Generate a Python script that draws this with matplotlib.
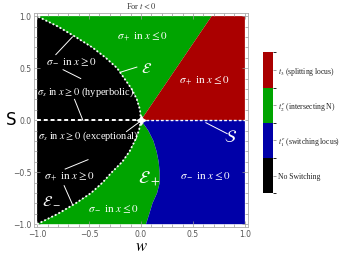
import numpy as np
import matplotlib
matplotlib.use("Agg")
import matplotlib.pyplot as plt
from matplotlib.colors import ListedColormap, BoundaryNorm

plt.rcParams['mathtext.fontset'] = 'stix'
plt.rcParams['font.family'] = ['Liberation Serif', 'DejaVu Serif']

# ---- data ----
# boundary of "No Switching" region, upper half (s >= 0)
s_up = [0.0, 0.1, 0.2, 0.3, 0.4, 0.5, 0.6, 0.7, 0.8, 0.9, 1.0]
w_black_up = [0.0, -0.01, -0.04, -0.09, -0.16, -0.23, -0.34, -0.47, -0.63, -0.80, -1.0]
# boundary of "No Switching" region, lower half (s <= 0)
s_lo = [0.0, -0.1, -0.2, -0.3, -0.4, -0.5, -0.6, -0.7, -0.8, -0.9, -1.0]
w_black_lo = [0.0, -0.02, -0.06, -0.11, -0.18, -0.28, -0.37, -0.48, -0.63, -0.80, -1.0]
# green / blue boundary (s <= 0)
w_blue_lo = [0.0, 0.07, 0.12, 0.15, 0.17, 0.18, 0.18, 0.155, 0.11, 0.08, 0.048]
# green / red boundary (straight line, s >= 0)
s_red = [0.0, 1.0]
w_red = [0.0, 0.68]

colors = ['#000000', '#0000A8', '#00A400', '#AA0000']
cbar_labels = ['No Switching', r'$t_1^e$ (switching locus)',
               r'$t_2^e$ (intersecting N)', r'$t_3$ (splitting locus)']

region_texts = [
    (r'$\sigma_+$ in $x \leq 0$', 0.01, 0.80, 8),
    (r'$\mathcal{E}$', 0.05, 0.49, 11),
    (r'$\sigma_-$ in $x \geq 0$', -0.67, 0.555, 8),
    (r'$\sigma_s$ in $x \geq 0$ (hyperbolic)', -0.53, 0.27, 7.5),
    (r'$\sigma_s$ in $x \geq 0$ (exceptional)', -0.51, -0.15, 7.5),
    (r'$\sigma_+$ in $x \geq 0$', -0.69, -0.54, 8),
    (r'$\mathcal{E}_-$', -0.86, -0.775, 11),
    (r'$\sigma_-$ in $x \leq 0$', -0.27, -0.86, 8),
    (r'$\mathcal{E}_+$', 0.08, -0.56, 13),
    (r'$\sigma_+$ in $x \leq 0$', 0.61, 0.38, 8),
    (r'$\mathcal{S}$', 0.865, -0.17, 12),
    (r'$\sigma_-$ in $x \leq 0$', 0.625, -0.535, 8),
]

pointers = [
    (-0.20, 0.46, -0.04, 0.51),
    (-0.82, 0.63, -0.66, 0.80),
    (-0.75, 0.485, -0.58, 0.40),
    (-0.64, 0.20, -0.56, 0.0),
    (-0.14, -0.11, -0.005, -0.01),
    (-0.73, -0.47, -0.51, -0.38),
    (-0.74, -0.63, -0.66, -0.81),
    (0.625, -0.025, 0.83, -0.13),
]

fig = plt.figure(figsize=(3.48, 2.56), dpi=100)
ax = fig.add_axes([34/348, 1-227.3/256, 214/348, 214.3/256])

# upper half
ax.fill(list(w_black_up) + [-1.0], list(s_up) + [0.0], color=colors[0], lw=0)
ax.fill(list(w_black_up) + w_red[::-1], list(s_up) + s_red[::-1], color=colors[2], lw=0)
ax.fill(w_red + [1.0, 1.0], s_red + [1.0, 0.0], color=colors[3], lw=0)
# lower half
ax.fill(list(w_black_lo) + [-1.0], list(s_lo) + [0.0], color=colors[0], lw=0)
ax.fill(list(w_black_lo) + list(w_blue_lo)[::-1], list(s_lo) + list(s_lo)[::-1], color=colors[2], lw=0)
ax.fill(list(w_blue_lo) + [1.0, 1.0], list(s_lo) + [-1.0, 0.0], color=colors[1], lw=0)

# dotted boundaries
ax.plot(w_black_up, s_up, color='white', lw=1.3, ls=(0, (1, 1.2)))
ax.plot(w_black_lo, s_lo, color='white', lw=1.3, ls=(0, (1, 1.2)))
ax.plot([-1, 0], [0, 0], color='white', lw=1.4, ls=(0, (2, 1.5)))
ax.plot([0, 1], [0, 0], color='white', lw=1.0, ls=(0, (2, 1.5)))
ax.plot([0], [0], marker=(4, 1, 0), color='white', ms=7, mew=0.5)

for (x1, y1, x2, y2) in pointers:
    ax.plot([x1, x2], [y1, y2], color='white', lw=0.7)
for (t, x, y, fs) in region_texts:
    ax.text(x, y, t, color='white', fontsize=fs, ha='center', va='center')

ax.set_xlim(-1.03, 1.03)
ax.set_ylim(-1.03, 1.03)
ax.set_xticks([-1.0, -0.5, 0.0, 0.5, 1.0])
ax.set_yticks([-1.0, -0.5, 0.0, 0.5, 1.0])
ax.set_xticks(np.arange(-1.0, 1.01, 0.1), minor=True)
ax.set_yticks(np.arange(-1.0, 1.01, 0.1), minor=True)
ax.set_xticklabels(['\u22121.0', '\u22120.5', '0.0', '0.5', '1.0'])
ax.set_yticklabels(['\u22121.0', '\u22120.5', '0.0', '0.5', '1.0'])
for lab in ax.get_xticklabels() + ax.get_yticklabels():
    lab.set_family('DejaVu Sans')
ax.tick_params(which='both', direction='in', top=True, right=True,
               color='#999999', labelcolor='#555555', labelsize=5.5, width=0.5, pad=2)
ax.tick_params(which='major', length=4)
ax.tick_params(which='minor', length=2)
for sp in ax.spines.values():
    sp.set_color('#aaaaaa')
    sp.set_linewidth(0.6)

ax.set_title(r'For $t<0$', fontsize=6, color='#333333', pad=3)
ax.set_xlabel(r'$w$', fontsize=12, labelpad=0)
ax.set_ylabel('S', fontsize=12, rotation=0, family='DejaVu Sans', va='center', ha='center')
ax.yaxis.set_label_coords(-0.105, 0.5)

# legend colour bar
cax = fig.add_axes([262.7/348, 1-193.3/256, 10/348, 141/256])
cmap = ListedColormap(colors)
norm = BoundaryNorm([0, 1, 2, 3, 4], cmap.N)
sm = matplotlib.cm.ScalarMappable(norm=norm, cmap=cmap)
cb = fig.colorbar(sm, cax=cax, ticks=[0.5, 1.5, 2.5, 3.5])
cb.ax.set_yticklabels(cbar_labels)
cb.outline.set_visible(False)
cb.ax.tick_params(labelsize=5.5, length=2, width=0.5, color='#777777', labelcolor='#222222', pad=2)

fig.savefig('out.png', dpi=100)
